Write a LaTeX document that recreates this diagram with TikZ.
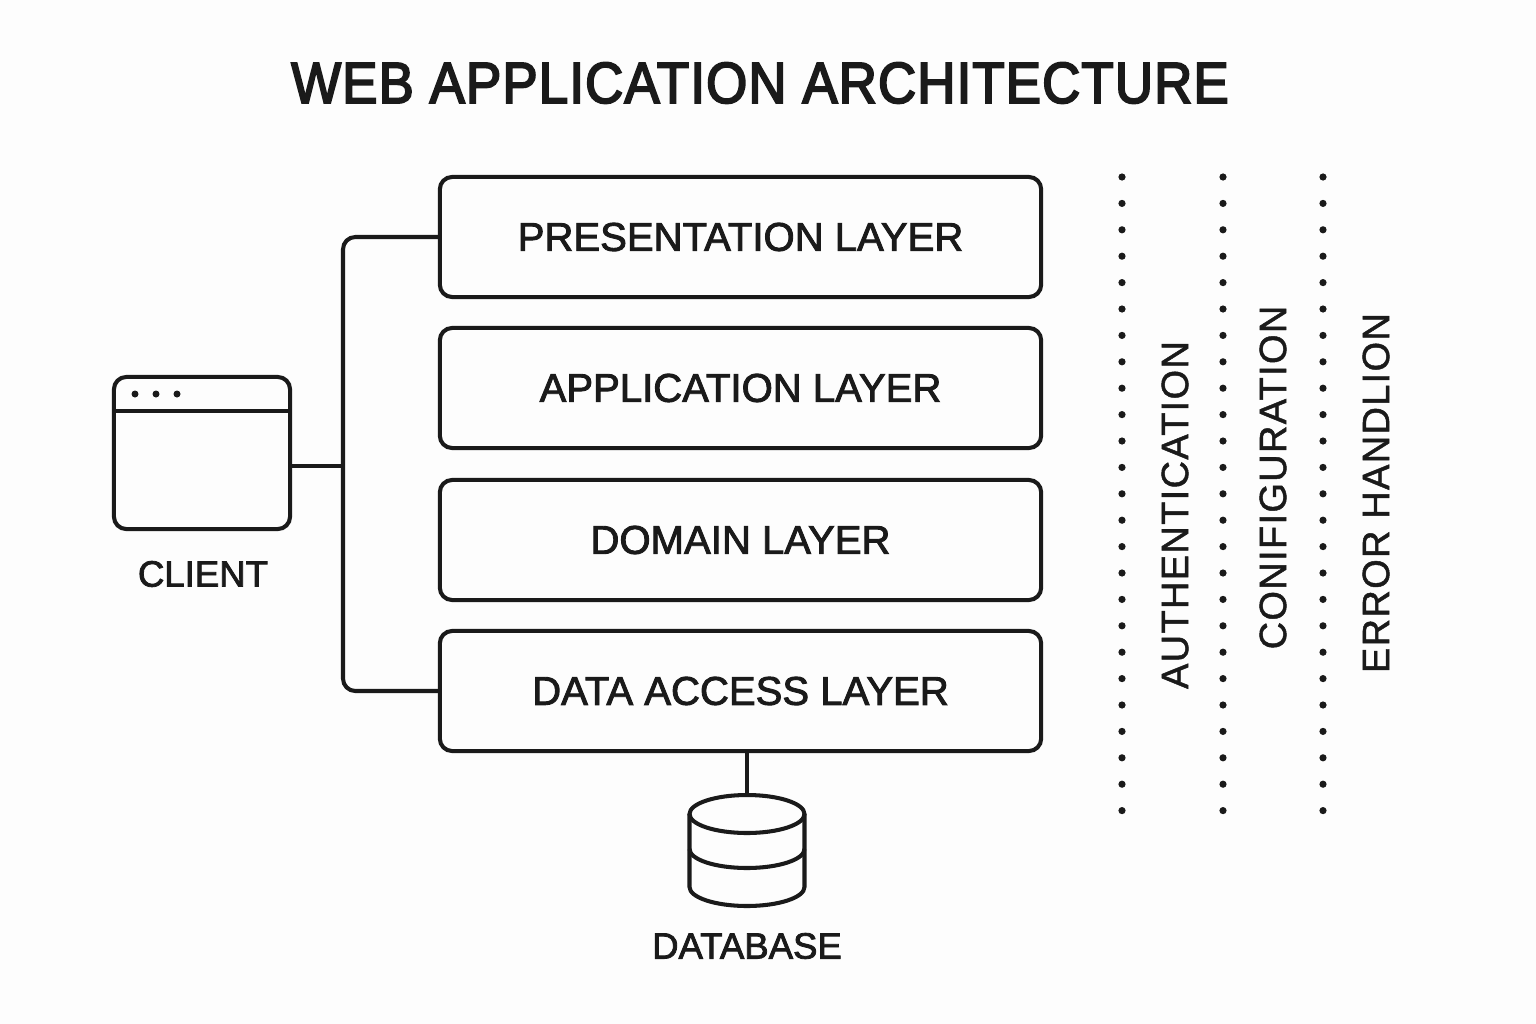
\documentclass[tikz,border=0pt]{standalone}
\usepackage{xcolor}
\usepackage{fontspec}
\setmainfont{Liberation Sans}
\newfontfamily\titlefont[FakeBold=3.2, FakeStretch=0.91, LetterSpace=2]{Liberation Sans}
\newfontfamily\labelfont[FakeBold=2.2]{Liberation Sans}
\newfontfamily\sidefont[FakeBold=1.2, LetterSpace=3.5]{Liberation Sans}
\usetikzlibrary{positioning, calc}
\definecolor{ink}{HTML}{1A1A1A}
\definecolor{paper}{HTML}{FDFDFD}
\tikzset{
    layerbox/.style={draw=ink, line width=1.15pt, rounded corners=3.5pt, minimum width=6.01cm, minimum height=1.2cm, inner sep=0pt, text=ink, font=\labelfont\fontsize{11.4}{14}\selectfont},
    link/.style={draw=ink, line width=1.15pt},
    caption/.style={text=ink, inner sep=0pt, font=\labelfont\fontsize{10.4}{13}\selectfont},
    sidelabel/.style={text=ink, inner sep=0pt, font=\sidefont\fontsize{10.8}{13}\selectfont, rotate=90},
}
\begin{document}
\begin{tikzpicture}[x=0.01cm, y=-0.01cm]
        \useasboundingbox[fill=paper] (0,0) rectangle (1536,1024);

        % Title
        \node[text=ink, inner sep=0pt, font=\titlefont\fontsize{16.5}{20}\selectfont] (title) at (760,83) {WEB APPLICATION ARCHITECTURE};

        % Layers
        \node[layerbox] (presentation) at (740.5,237) {PRESENTATION LAYER};
        \node[layerbox] (application) at (740.5,388) {APPLICATION LAYER};
        \node[layerbox] (domain) at (740.5,540) {DOMAIN LAYER};
        \node[layerbox] (dataaccess) at (740.5,691) {DATA ACCESS LAYER};

        % Client window
        \node[draw=ink, line width=1.15pt, rounded corners=3.5pt, minimum width=1.76cm, minimum height=1.52cm, inner sep=0pt] (client) at (202,453) {};
        \draw[link] (114,411) -- (290,411);
        \foreach \x in {135,156,177} {
            \fill[ink] (\x,394) circle (3.5);
        }
        \node[caption] (clientlabel) at (203,574) {CLIENT};

        % Connectors
        \coordinate (trunk) at (343,466);
        \draw[link, rounded corners=3.5pt] (presentation.west) -| (trunk) |- (dataaccess.west);
        \draw[link] (trunk -| client.east) -- (trunk);

        % Database
        \coordinate (dbtop) at (747,795);
        \draw[link] (dbtop |- dataaccess.south) -- (dbtop);
        \draw[link] (747,814) ellipse (57.5 and 19);
        \draw[link] (689.5,814) -- (689.5,887) arc[start angle=180, end angle=360, x radius=57.5, y radius=-19] -- (804.5,814);
        \draw[link] (689.5,849) arc[start angle=180, end angle=360, x radius=57.5, y radius=-19];
        \node[caption] (dblabel) at (747,946) {DATABASE};

        % Dotted columns
        \foreach \x in {1122,1223,1323} {
            \foreach \k in {0,...,24} {
                \fill[ink] (\x,177+\k*26.4) circle (3.6);
            }
        }
        \node[sidelabel] (authentication) at (1175,515) {AUTHENTICATION};
        \node[sidelabel] (configuration) at (1273,477.5) {CONIFIGURATION};
        \node[sidelabel] (errorhandling) at (1376,493) {ERROR HANDLION};
\end{tikzpicture}
\end{document}
